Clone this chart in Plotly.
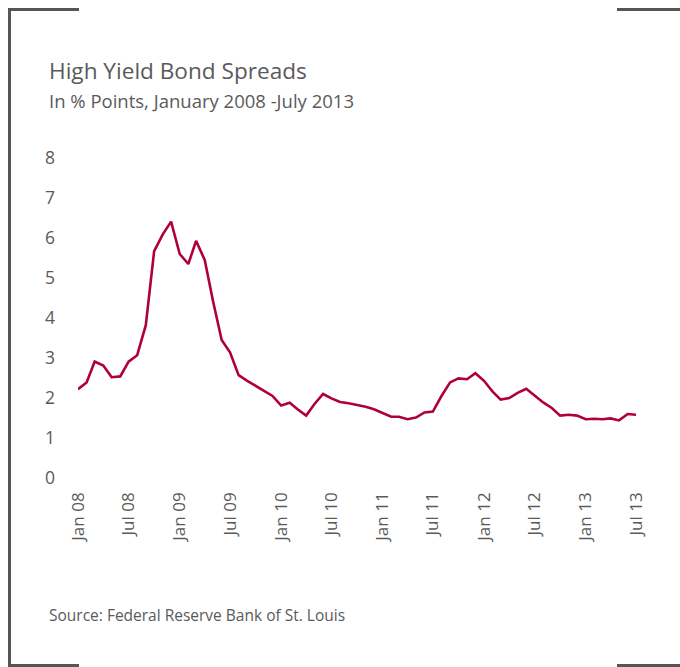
import plotly.graph_objects as go
import pandas as pd

# ---- data ----
months = pd.date_range("2008-01-01", "2013-07-01", freq="MS")
spread = [2.22, 2.39, 2.91, 2.81, 2.52, 2.54, 2.91, 3.07, 3.82, 5.67, 6.09, 6.41,
          5.60, 5.35, 5.93, 5.45, 4.42, 3.45, 3.14, 2.57, 2.43, 2.30, 2.18, 2.05,
          1.81, 1.88, 1.72, 1.56, 1.85, 2.10, 1.99, 1.90, 1.87, 1.83, 1.78, 1.72,
          1.63, 1.53, 1.53, 1.47, 1.51, 1.64, 1.66, 2.05, 2.39, 2.49, 2.47, 2.62,
          2.43, 2.16, 1.96, 2.00, 2.13, 2.23, 2.06, 1.89, 1.75, 1.56, 1.58, 1.56,
          1.47, 1.48, 1.47, 1.49, 1.44, 1.60, 1.58]
tick_dates = ["2008-01-01", "2008-07-01", "2009-01-01", "2009-07-01", "2010-01-01", "2010-07-01",
              "2011-01-01", "2011-07-01", "2012-01-01", "2012-07-01", "2013-01-01", "2013-07-01"]
tick_labels = ["Jan 08", "Jul 08", "Jan 09", "Jul 09", "Jan 10", "Jul 10",
               "Jan 11", "Jul 11", "Jan 12", "Jul 12", "Jan 13", "Jul 13"]
y_ticks = [0, 1, 2, 3, 4, 5, 6, 7, 8]

title = "High Yield Bond Spreads"
subtitle = "In % Points, January 2008 -July 2013"
source = "Source: Federal Reserve Bank of St. Louis"

# ---- layout geometry (pixels) ----
W, H = 680, 667
PL, PR, PT, PB = 78, 636, 158, 478
TEXT = "#5a5a5a"
FONT = "Open Sans"


def px(x):
    return (x - PL) / (PR - PL)


def py(y):
    return (PB - y) / (PB - PT)


fig = go.Figure()
fig.add_trace(go.Scatter(x=months, y=spread, mode="lines",
                         line=dict(color="#b0003a", width=2.6),
                         hoverinfo="skip", showlegend=False))

frame_col = "#555555"
shapes = []
for (x0, y0, x1, y1) in [(9.5, 8, 9.5, 667), (8, 9.5, 79, 9.5), (8, 665.5, 79, 665.5),
                         (617, 9.5, 680, 9.5), (617, 665.5, 680, 665.5)]:
    shapes.append(dict(type="line", xref="paper", yref="paper",
                       x0=px(x0), y0=py(y0), x1=px(x1), y1=py(y1),
                       line=dict(color=frame_col, width=3)))

annotations = [
    dict(text=title, x=px(47), y=py(71), xref="paper", yref="paper", xanchor="left", yanchor="middle",
         showarrow=False, font=dict(family=FONT, size=22.6, color=TEXT)),
    dict(text=subtitle, x=px(47), y=py(100), xref="paper", yref="paper", xanchor="left", yanchor="middle",
         showarrow=False, font=dict(family=FONT, size=18.5, color=TEXT)),
    dict(text=source, x=px(47), y=py(615), xref="paper", yref="paper", xanchor="left", yanchor="middle",
         showarrow=False, font=dict(family=FONT, size=15.5, color=TEXT)),
]

fig.update_layout(
    width=W, height=H,
    margin=dict(l=PL, r=W - PR, t=PT, b=H - PB, autoexpand=False),
    paper_bgcolor="white", plot_bgcolor="white",
    font=dict(family=FONT, color=TEXT),
    shapes=shapes, annotations=annotations,
    xaxis=dict(range=["2008-01-01", "2013-07-01"], tickmode="array",
               tickvals=tick_dates, ticktext=tick_labels, tickangle=-90,
               showgrid=False, zeroline=False, showline=False, ticks="",
               tickfont=dict(family=FONT, size=17, color=TEXT), ticklabelstandoff=10),
    yaxis=dict(range=[0, 8], tickmode="array", tickvals=y_ticks,
               showgrid=False, zeroline=False, showline=False, ticks="",
               tickfont=dict(family=FONT, size=17.5, color=TEXT), ticklabelstandoff=22),
)

fig.write_html("out.html")
